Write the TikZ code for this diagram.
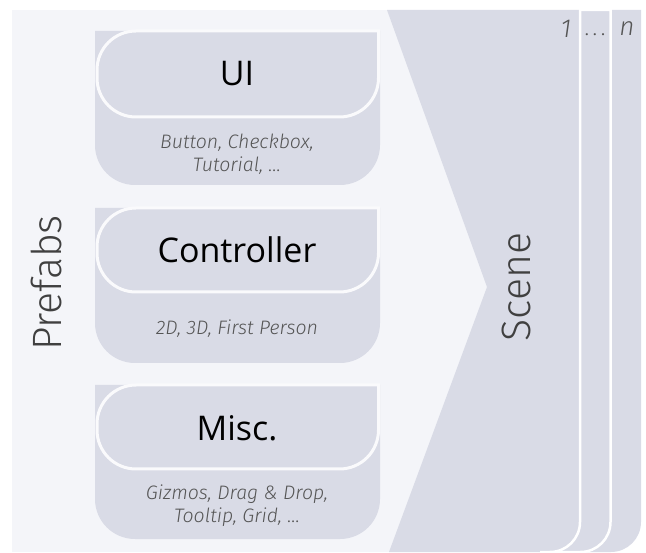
\documentclass[tikz,border=0pt]{standalone}
\usepackage{fontspec}
\setmainfont{Open Sans}
\newfontfamily\lightfont{Fira Sans Light}
\definecolor{panelbg}{HTML}{F4F5F9}
\definecolor{blockfill}{HTML}{D9DBE6}
\definecolor{subgray}{HTML}{555555}
\definecolor{titlegray}{HTML}{404040}
\definecolor{headedge}{HTML}{FAFAFC}
\begin{document}
\begin{tikzpicture}[x=1pt,y=-1pt,
  panel/.style={fill=panelbg},
  scenefill/.style={fill=blockfill},
  gapline/.style={draw=white,line width=2.5pt},
  headfill/.style={fill=blockfill,draw=headedge,line width=3pt},
  headtext/.style={font=\fontsize{34}{40}\selectfont,text=black},
  subtext/.style={font=\lightfont\fontsize{19.5}{23}\selectfont\itshape,text=subgray,align=center},
  bigtext/.style={font=\lightfont\fontsize{41}{48}\selectfont,text=titlegray,rotate=90},
  numtext/.style={font=\lightfont\fontsize{26}{30}\selectfont\itshape,text=subgray}
]
\useasboundingbox (0,0) rectangle (646,553);
% prefabs panel
\fill[panel] (12,10) rectangle (600,552);
% scene stack (back to front)
\path[scenefill] (560,10) -- (641,10) -- (641,522) arc[start angle=0,end angle=90,radius=30] -- (560,552) -- cycle;
\path[scenefill,gapline] (540,10) -- (610.5,10) -- (610.5,522) arc[start angle=0,end angle=90,radius=30] -- (540,552) -- cycle;
\fill[blockfill] (387,10) -- (580,10) -- (580,522) arc[start angle=0,end angle=90,radius=30] -- (389,552) -- (487,287) -- cycle;
\draw[gapline] (580,8) -- (580,522) arc[start angle=0,end angle=90,radius=30] -- (540,552);
\node[numtext] (n1) at (566,29) {1};
\node[numtext,font=\lightfont\fontsize{22}{26}\selectfont] (ndots) at (595,35) {.\,.\,.};
\node[numtext] (nn) at (627,29) {n};
\node[bigtext] (scene) at (516,287) {Scene};
\node[bigtext] (prefabs) at (46,283) {Prefabs};
% blocks
\foreach \t/\hb/\b/\name in {31/117/185/ui, 208/292/363/ctrl, 385/469/539/misc}{
  \fill[blockfill] (95,\t) -- (380,\t) -- (380,\b-40) arc[start angle=0,end angle=90,radius=40]
     -- (135,\b) arc[start angle=90,end angle=180,radius=40] -- cycle;
  \path[headfill] (136,\t) -- (378.5,\t) -- (378.5,\hb-39) arc[start angle=0,end angle=90,radius=39]
     -- (136,\hb) arc[start angle=90,end angle=180,radius=39] -- (97,\t+39) arc[start angle=180,end angle=270,radius=39] -- cycle;
}
\node[headtext] (ui) at (237,74) {UI};
\node[subtext] (uisub) at (237,154) {Button, Checkbox,\\Tutorial, \dots};
\node[headtext] (ctrl) at (237,250) {Controller};
\node[subtext] (ctrlsub) at (237,329) {2D, 3D, First Person};
\node[headtext] (misc) at (237,428) {Misc.};
\node[subtext] (miscsub) at (237,506) {Gizmos, Drag \& Drop,\\Tooltip, Grid, \dots};
\end{tikzpicture}
\end{document}
